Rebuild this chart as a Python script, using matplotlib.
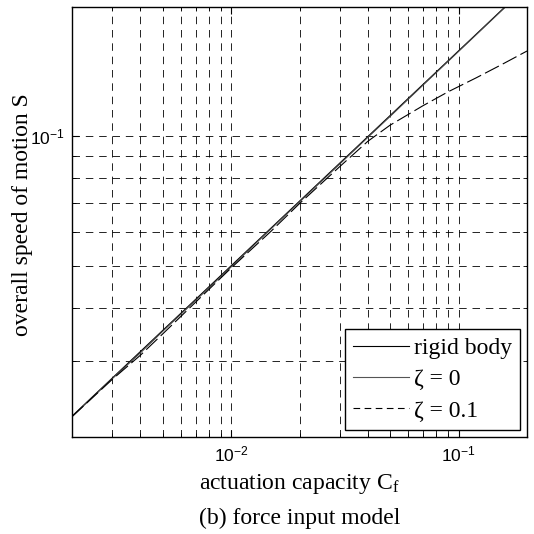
import matplotlib
matplotlib.use("Agg")
import matplotlib.pyplot as plt
import numpy as np
from matplotlib.ticker import LogLocator, NullFormatter, FuncFormatter
from matplotlib.lines import Line2D

# ---- data ----
cf = [0.002, 0.003, 0.004, 0.005, 0.007, 0.01, 0.015, 0.02, 0.03, 0.04, 0.05,
      0.07, 0.09, 0.12, 0.155, 0.2]
s_rigid = [0.02236, 0.02739, 0.03162, 0.03536, 0.04183, 0.05, 0.06124, 0.07071,
           0.0866, 0.1, 0.1118, 0.1323, 0.15, 0.1732, 0.1969, 0.2236]
s_zeta0 = [0.0223, 0.0273, 0.0314, 0.0352, 0.0416, 0.0497, 0.0610, 0.0704,
           0.0862, 0.0996, 0.1113, 0.1318, 0.1495, 0.1727, 0.1964, 0.2230]
s_zeta01 = [0.0223, 0.0272, 0.0310, 0.0347, 0.0412, 0.0494, 0.0602, 0.0698,
            0.0850, 0.0975, 0.1062, 0.1180, 0.1270, 0.1370, 0.1470, 0.1580]

labels = ["rigid body", "ζ = 0", "ζ = 0.1"]

serif = "Liberation Serif"
sans = "Liberation Sans"
plt.rcParams['mathtext.fontset'] = 'custom'
plt.rcParams['mathtext.rm'] = serif
plt.rcParams['mathtext.it'] = serif + ':italic'
plt.rcParams['mathtext.sf'] = sans

fig = plt.figure(figsize=(5.34, 5.34), dpi=100)
ax = fig.add_axes([72/534, 1 - 437/534, 455/534, 430/534])

ax.plot(cf, s_rigid, color='black', lw=0.8)
ax.plot(cf, s_zeta0, color='#444444', lw=0.8)
ax.plot(cf, s_zeta01, color='black', lw=0.8, dashes=(14, 4))

ax.set_xscale('log')
ax.set_yscale('log')
ax.set_xlim(0.002, 0.2)
ax.set_ylim(0.02, 0.2)

def fmt(v, pos):
    e = int(round(np.log10(v)))
    return r"$\mathsf{10^{%d}}$" % e

ax.xaxis.set_major_locator(LogLocator(base=10, numticks=10))
ax.yaxis.set_major_locator(LogLocator(base=10, numticks=10))
ax.xaxis.set_minor_locator(LogLocator(base=10, subs=np.arange(2, 10), numticks=20))
ax.yaxis.set_minor_locator(LogLocator(base=10, subs=np.arange(2, 10), numticks=20))
ax.xaxis.set_minor_formatter(NullFormatter())
ax.yaxis.set_minor_formatter(NullFormatter())
ax.xaxis.set_major_formatter(FuncFormatter(fmt))
ax.yaxis.set_major_formatter(FuncFormatter(fmt))

ax.grid(True, which='both', color='black', lw=0.6, ls=(0, (9, 7)))
ax.tick_params(which='both', direction='in', top=True, right=True, labelsize=12.5)
ax.tick_params(which='major', length=5)
ax.tick_params(which='minor', length=3)
ax.tick_params(axis='x', pad=6)
ax.tick_params(axis='y', pad=5)
for sp in ax.spines.values():
    sp.set_linewidth(1.0)

ax.set_xlabel(r"actuation capacity C$_\mathregular{f}$", family=serif, fontsize=17)
ax.set_ylabel("overall speed of motion S", family=serif, fontsize=17)
ax.xaxis.label.set_va('center')
ax.yaxis.label.set_va('center')
ax.xaxis.set_label_coords(0.5, -(484 - 437) / 430)
ax.yaxis.set_label_coords((23 - 72) / 455, 0.5 + (222 - 215) / 430)
fig.text(299.5/534, 1 - 518/534, "(b) force input model", family=serif, fontsize=17,
         ha='center', va='center')

handles = [Line2D([], [], color='black', lw=0.8),
           Line2D([], [], color='#555555', lw=0.8),
           Line2D([], [], color='black', lw=0.8, dashes=(6, 4))]
leg = ax.legend(handles, labels, loc='lower right', prop={'family': serif, 'size': 17},
                frameon=True, fancybox=False, edgecolor='black', framealpha=1,
                borderaxespad=0.3, handlelength=2.37, handletextpad=0.2,
                labelspacing=0.42, borderpad=0.35)
leg.get_frame().set_linewidth(1.0)

fig.savefig("out.png", dpi=100)
